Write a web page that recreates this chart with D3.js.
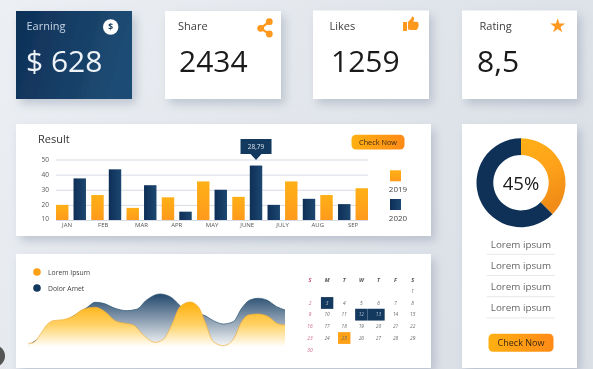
<!DOCTYPE html>
<html>
<head>
<meta charset="utf-8">
<script src="https://cdn.jsdelivr.net/npm/d3@7"></script>
<style>
  html, body { margin: 0; padding: 0; background: #e6eaef; overflow: hidden; }
  svg { display: block; font-family: "Open Sans", sans-serif; filter: blur(0.4px); }
</style>
</head>
<body>
<div id="chart"></div>
<script>
// kpi cards
const kpiLabels = ['Earning', 'Share', 'Likes', 'Rating'];
const kpiValues = ['$ 628', '2434', '1259', '8,5'];

// bar chart
const months = ['JAN', 'FEB', 'MAR', 'APR', 'MAY', 'JUNE', 'JULY', 'AUG', 'SEP'];
const values2019 = [20, 26.5, 18, 25, 35.5, 25.3, 35.5, 26.5, 31];
const values2020 = [37.5, 43.5, 33, 15.5, 30, 46, 20, 24, 20.5];
const navyFirstMonths = ['JULY', 'AUG', 'SEP'];
const barTicks = [10, 20, 30, 40, 50];
const calloutMonth = 'JUNE';
const calloutLabel = '28,79';
const barYears = ['2019', '2020'];

// donut
const donutLabel = '45%';
const donutShares = [37.5, 62.5];
const listItems = ['Lorem ipsum', 'Lorem ipsum', 'Lorem ipsum', 'Lorem ipsum'];

// area chart
const areaNames = ['Lorem Ipsum', 'Dolor Amet'];
const orangeSteps = [0, 15, 35, 55, 75, 105, 135, 165, 200, 230, 260, 285, 315, 345, 380, 405, 430, 455, 485, 510, 530, 555, 585, 615, 640, 660, 690, 720, 750, 770];
const orangeValues = [11, 13, 36, 66, 79, 82, 93, 113, 119, 106, 79, 72, 66, 36, 14, 23, 66, 121, 135, 121, 76, 16, 4, 23, 76, 96, 99, 91, 69, 66];
const navySteps = [0, 115, 177, 200, 225, 260, 295, 325, 355, 395, 430, 460, 490, 525, 555, 585, 615, 640, 665, 690, 715, 745, 770];
const navyValues = [5, 80, 119, 134, 131, 116, 109, 113, 141, 159, 148, 119, 100, 96, 79, 69, 76, 116, 141, 146, 141, 121, 111];

// calendar
const weekDays = ['S', 'M', 'T', 'W', 'T', 'F', 'S'];
const firstWeekday = 6;
const dayCount = 30;
const navyDays = [3, 12, 13];
const orangeDays = [25];

const width = 593;
const height = 369;
const navy = '#14395f';
const orange = '#ffa116';

const svg = d3.select('#chart').append('svg')
  .attr('width', width)
  .attr('height', height);
const defs = svg.append('defs');

function gradient(id, stops, x2, y2, user) {
  const g = defs.append('linearGradient').attr('id', id)
    .attr('x1', user ? user[0] : 0).attr('y1', user ? user[1] : 0)
    .attr('x2', x2).attr('y2', y2);
  if (user) g.attr('gradientUnits', 'userSpaceOnUse');
  stops.forEach((s, i) => {
    g.append('stop').attr('offset', i / (stops.length - 1)).attr('stop-color', s);
  });
}

gradient('bg', ['#eceff3', '#e3e7ec', '#dbe0e7'], 1, 0.4);
gradient('earning', ['#0e2f57', '#1e4c74'], 1, 0.2);
gradient('barOrange', ['#ffb016', '#ff9a1c'], 0, 1);
gradient('barNavy', ['#0e2f57', '#1c4770'], 1, 0);
gradient('button', ['#ffb012', '#ff8a17'], 1, 0);
gradient('donutOrange', ['#ffb016', '#ffa31a', '#f08c17'], 0.3, 1);
gradient('donutNavy', ['#1c4a71', '#0f3158'], 0, 0);
gradient('areaOrange', ['#ffb00e', '#ffd267', '#ffffff'], 0, 347, [0, 303]);
gradient('areaNavy', ['#23496e', '#8a9db0', '#f2f4f6'], 0, 345, [0, 294]);

const shadow = defs.append('filter').attr('id', 'shadow')
  .attr('x', '-20%').attr('y', '-20%').attr('width', '145%').attr('height', '150%');
shadow.append('feDropShadow')
  .attr('dx', 4).attr('dy', 5).attr('stdDeviation', 5)
  .attr('flood-color', '#8e9aad').attr('flood-opacity', 0.45);

svg.append('rect').attr('width', width).attr('height', height).attr('fill', 'url(#bg)');

function card(x, y, w, h, fill) {
  svg.append('rect')
    .attr('x', x).attr('y', y).attr('width', w).attr('height', h)
    .attr('fill', fill || '#fff')
    .attr('filter', 'url(#shadow)');
}

function button(x, y, w, h, size) {
  svg.append('rect')
    .attr('x', x).attr('y', y).attr('width', w).attr('height', h)
    .attr('rx', 4.5).attr('fill', 'url(#button)');
  svg.append('text')
    .attr('x', x + w / 2).attr('y', y + h / 2 + size * 0.36)
    .attr('text-anchor', 'middle')
    .attr('font-size', size).attr('fill', '#3a2a12')
    .text('Check Now');
}

// ---- KPI cards ----
const kpiBoxes = [[16, 11, 116], [165, 11, 116], [313, 10.5, 116], [462, 10.5, 115]];
const kpiLabelX = [26.5, 178, 329.5, 479.5];
const kpiValueX = [26, 179, 331, 477];

kpiBoxes.forEach((b, i) => {
  card(b[0], b[1], b[2], 99 - b[1], i === 0 ? 'url(#earning)' : '#fff');
  svg.append('text')
    .attr('x', kpiLabelX[i]).attr('y', 30)
    .attr('font-size', 11)
    .attr('fill', i === 0 ? '#c6d5e3' : '#3d3d3d')
    .text(kpiLabels[i]);
  svg.append('text')
    .attr('x', kpiValueX[i]).attr('y', 71.7)
    .attr('font-size', 30)
    .attr('fill', i === 0 ? '#eef3f8' : '#1a1a1a')
    .text(kpiValues[i]);
});

// dollar icon
svg.append('circle').attr('cx', 110.7).attr('cy', 27).attr('r', 7.7).attr('fill', '#fff');
svg.append('text')
  .attr('x', 110.7).attr('y', 30)
  .attr('text-anchor', 'middle')
  .attr('font-size', 8.5).attr('font-weight', 700).attr('fill', navy)
  .text('$');

// share icon
const shareIcon = svg.append('g').attr('fill', '#ff981e').attr('stroke', '#ff981e');
shareIcon.append('path')
  .attr('d', 'M269.3 21.7L260.7 28.3L269.3 34')
  .attr('fill', 'none').attr('stroke-width', 2.2);
[[269.3, 21.7], [260.7, 28.3], [269.3, 34]].forEach(p => {
  shareIcon.append('circle').attr('cx', p[0]).attr('cy', p[1]).attr('r', 3.4).attr('stroke', 'none');
});

// thumb icon
svg.append('path')
  .attr('transform', 'translate(403,16.5)')
  .attr('fill', '#ff981e')
  .attr('d', 'M0 5.5h4v9h-4zM5 5.5l3.2-3.5 .8-2c1.6 0 2.4 1.2 2 2.8l-.7 2.4h3.6c1.5 0 1.8 1.2 1.4 2.2 .7 .6 .6 1.6 -.1 2.1 .4 .8 .2 1.6 -.6 2 .1 1.2 -.6 1.9 -1.7 1.9h-5.5c-1 0 -1.4 -.4 -2.4 -.6z');

// star icon
svg.append('path')
  .attr('transform', 'translate(557.7,26)')
  .attr('fill', '#ff981e')
  .attr('d', d3.symbol(d3.symbolStar, 68)());

// ---- bar chart ----
card(16, 124, 415, 112);
svg.append('text')
  .attr('x', 38).attr('y', 143)
  .attr('font-size', 11).attr('fill', '#333')
  .text('Result');

const barX = d3.scaleBand().domain(months).range([56, 368]).paddingInner(0.15);
const barSide = d3.scaleBand().domain([0, 1]).range([0, barX.bandwidth()]).paddingInner(0.29);
const barY = d3.scaleLinear().domain([10, 50]).range([220, 159.5]);

const yAxis = svg.append('g')
  .attr('transform', 'translate(56,0)')
  .call(d3.axisLeft(barY).tickValues(barTicks).tickSize(-312).tickPadding(7));
yAxis.select('.domain').remove();
yAxis.selectAll('.tick line').attr('stroke', '#d6dbe3').attr('stroke-width', 1);
yAxis.selectAll('.tick text')
  .attr('font-family', '"Open Sans", sans-serif')
  .attr('font-size', 6.5).attr('fill', '#555');
yAxis.selectAll('.tick text').filter(d => d === 10).attr('dy', '0.1em');

const xAxis = svg.append('g')
  .attr('transform', 'translate(0,220)')
  .call(d3.axisBottom(barX).tickSize(0).tickPadding(3));
xAxis.select('.domain').remove();
xAxis.selectAll('.tick text')
  .attr('font-family', '"Open Sans", sans-serif')
  .attr('font-size', 6).attr('fill', '#555')
  .attr('dx', d => (d === 'JAN' ? -4 : d === 'FEB' ? -3 : 0));

function barGroup(values, side, fill) {
  svg.append('g').selectAll('rect')
    .data(months.map((m, i) => ({ month: m, value: values[i] })))
    .enter().append('rect')
    .attr('x', d => barX(d.month) + barSide(navyFirstMonths.includes(d.month) ? 1 - side : side))
    .attr('y', d => barY(d.value))
    .attr('width', barSide.bandwidth())
    .attr('height', d => barY(10) - barY(d.value))
    .attr('fill', fill);
}
barGroup(values2019, 0, 'url(#barOrange)');
barGroup(values2020, 1, 'url(#barNavy)');

// callout above the tallest bar
const calloutX = barX(calloutMonth) + barSide(1) + barSide.bandwidth() / 2;
const calloutBase = barY(values2020[months.indexOf(calloutMonth)]) - 5.5;
svg.append('path')
  .attr('fill', navy)
  .attr('d', `M${calloutX - 15.5} ${calloutBase - 21}h31v15h-10l-5.5 6l-5.5 -6h-10z`);
svg.append('text')
  .attr('x', calloutX).attr('y', calloutBase - 11)
  .attr('text-anchor', 'middle')
  .attr('font-size', 6.5).attr('fill', '#d8e3ee')
  .text(calloutLabel);

button(351.5, 134.7, 53, 14.8, 7.3);

barYears.forEach((year, i) => {
  svg.append('rect')
    .attr('x', 390).attr('y', 170.3 + i * 28.7)
    .attr('width', 11).attr('height', 11)
    .attr('fill', i === 0 ? 'url(#barOrange)' : 'url(#barNavy)');
  svg.append('text')
    .attr('x', 398).attr('y', 192 + i * 29)
    .attr('text-anchor', 'middle')
    .attr('font-size', 8).attr('fill', '#444')
    .text(year);
});

// ---- donut ----
card(462, 124, 115, 244);
const donut = svg.append('g').attr('transform', 'translate(521,182.7)');
const arc = d3.arc().innerRadius(27.7).outerRadius(44.5);
donut.selectAll('path')
  .data(d3.pie().sort(null)(donutShares))
  .enter().append('path')
  .attr('d', arc)
  .attr('fill', (d, i) => (i === 0 ? 'url(#donutOrange)' : 'url(#donutNavy)'));
donut.append('text')
  .attr('y', 7.5)
  .attr('text-anchor', 'middle')
  .attr('font-size', 18.5).attr('fill', '#1a1a1a')
  .text(donutLabel);

listItems.forEach((item, i) => {
  svg.append('text')
    .attr('x', 521).attr('y', 247.5 + i * 21.2)
    .attr('text-anchor', 'middle')
    .attr('font-size', 9.8).attr('fill', '#666')
    .text(item);
  svg.append('line')
    .attr('x1', 486.7).attr('x2', 555)
    .attr('y1', 254.3 + i * 21.2).attr('y2', 254.3 + i * 21.2)
    .attr('stroke', '#e6e8ec');
});
button(488.5, 333.7, 65, 18, 9);

// ---- area chart ----
card(16, 254, 415, 114);
areaNames.forEach((name, i) => {
  svg.append('circle')
    .attr('cx', 37).attr('cy', 272 + i * 16).attr('r', 3.8)
    .attr('fill', i === 0 ? orange : navy);
  svg.append('text')
    .attr('x', 48).attr('y', 274.5 + i * 16)
    .attr('font-size', 6.8).attr('fill', '#444')
    .text(name);
});

const areaX = d3.scaleLinear().domain([0, 770]).range([28.3, 285]);
const areaY = d3.scaleLinear().domain([0, 170]).range([347, 290.3]);

function smoothArea(steps, values, fill, stroke) {
  const points = steps.map((s, i) => [s, values[i]]);
  const curve = d3.curveMonotoneX;
  svg.append('path')
    .datum(points)
    .attr('fill', fill)
    .attr('d', d3.area().x(d => areaX(d[0])).y0(areaY(-3)).y1(d => areaY(d[1])).curve(curve));
  svg.append('path')
    .datum(points)
    .attr('fill', 'none')
    .attr('stroke', stroke)
    .attr('stroke-width', 0.7)
    .attr('d', d3.line().x(d => areaX(d[0])).y(d => areaY(d[1])).curve(curve));
}
smoothArea(navySteps, navyValues, 'url(#areaNavy)', '#28506f');
smoothArea(orangeSteps, orangeValues, 'url(#areaOrange)', '#f0ad3c');

// ---- calendar ----
const calX = d3.scalePoint().domain(d3.range(7)).range([310, 412.7]);
const calY = d3.scalePoint().domain(d3.range(6)).range([291.3, 349.7]);
const calDays = d3.range(1, dayCount + 1).map(day => {
  const slot = day - 1 + firstWeekday;
  return { day, col: slot % 7, row: Math.floor(slot / 7) };
});
const cellW = 12.4;
const cellH = 11.8;

function highlight(days, fill) {
  svg.append('g').selectAll('rect')
    .data(calDays.filter(d => days.includes(d.day)))
    .enter().append('rect')
    .attr('x', d => calX(d.col) - cellW / 2 - (d.day === 13 ? 4.7 : 0))
    .attr('y', d => calY(d.row) - cellH / 2)
    .attr('width', d => cellW + (d.day === 13 ? 4.7 : 0))
    .attr('height', cellH)
    .attr('fill', fill);
}
highlight(navyDays, navy);
highlight(orangeDays, orange);

svg.append('g').selectAll('text')
  .data(weekDays)
  .enter().append('text')
  .attr('x', (d, i) => calX(i))
  .attr('y', 282)
  .attr('text-anchor', 'middle')
  .attr('font-size', 5.5).attr('font-weight', 700).attr('font-style', 'italic')
  .attr('fill', (d, i) => (i === 0 ? '#c9547a' : '#555'))
  .text(d => d);

svg.append('g').selectAll('text')
  .data(calDays)
  .enter().append('text')
  .attr('x', d => calX(d.col))
  .attr('y', d => calY(d.row) + 1.8)
  .attr('text-anchor', 'middle')
  .attr('font-size', 4.8).attr('font-style', 'italic')
  .attr('fill', d => {
    if (navyDays.includes(d.day)) return '#b5c8da';
    if (d.col === 0) return '#cf5f86';
    return '#666';
  })
  .text(d => d.day);

// dark corner badge from the original screenshot
svg.append('circle').attr('cx', -6).attr('cy', 356).attr('r', 11).attr('fill', '#555');
</script>
</body>
</html>
